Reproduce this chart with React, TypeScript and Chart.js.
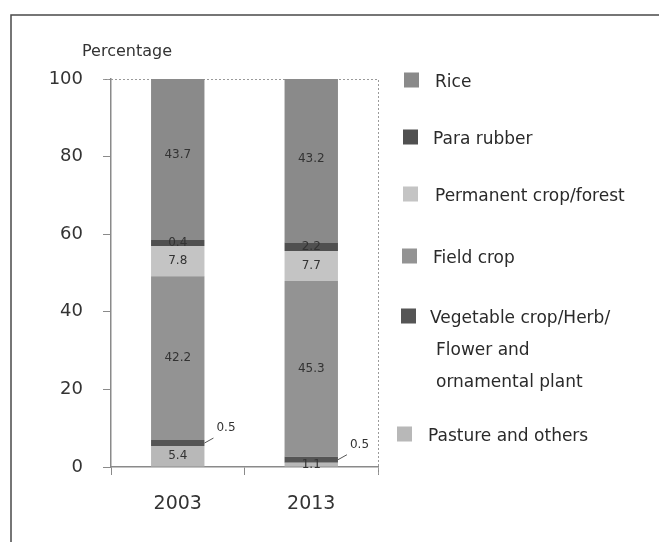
import React, { useEffect, useRef } from "react";
import { Chart, registerables } from "chart.js";

Chart.register(...registerables);

const categories = ["2003", "2013"];
const pasture = [5.4, 1.1];
const vegetable = [0.5, 0.5];
const fieldCrop = [42.2, 45.3];
const permanent = [7.8, 7.7];
const paraRubber = [0.4, 2.2];
const rice = [43.7, 43.2];
const yMin = 0;
const yMax = 100;
const yStep = 20;
const yTitle = "Percentage";

const legendItems = [
  { lines: ["Rice"], color: "#8a8a8a" },
  { lines: ["Para rubber"], color: "#505050" },
  { lines: ["Permanent crop/forest"], color: "#c4c4c4" },
  { lines: ["Field crop"], color: "#939393" },
  { lines: ["Vegetable crop/Herb/", "Flower and", "ornamental plant"], color: "#555555" },
  { lines: ["Pasture and others"], color: "#b8b8b8" },
];

const FONT = "'DejaVu Sans', Verdana, sans-serif";

const framePlugin = {
  id: "frame",
  beforeDraw(chart: any) {
    const ctx = chart.ctx;
    ctx.save();
    ctx.fillStyle = "#ffffff";
    ctx.fillRect(0, 0, chart.width, chart.height);
    ctx.strokeStyle = "#4a4a4a";
    ctx.lineWidth = 1.5;
    ctx.strokeRect(11, 15, 800, 700);
    // title
    ctx.fillStyle = "#333";
    ctx.font = `16px ${FONT}`;
    ctx.textAlign = "left";
    ctx.textBaseline = "middle";
    ctx.fillText(yTitle, 82, 52);
    ctx.restore();
  },
  beforeDatasetsDraw(chart: any) {
    const { ctx, chartArea } = chart;
    ctx.save();
    ctx.strokeStyle = "#9a9a9a";
    ctx.lineWidth = 1;
    ctx.setLineDash([2, 2]);
    ctx.beginPath();
    ctx.moveTo(chartArea.left - 8, chartArea.top + 0.5);
    ctx.lineTo(chartArea.right + 0.5, chartArea.top + 0.5);
    ctx.lineTo(chartArea.right + 0.5, chartArea.bottom + 8);
    ctx.stroke();
    ctx.restore();
  },
  afterDatasetsDraw(chart: any) {
    const ctx = chart.ctx;
    ctx.save();
    ctx.font = `12px ${FONT}`;
    ctx.fillStyle = "#333";
    ctx.textAlign = "center";
    ctx.textBaseline = "middle";
    chart.data.datasets.forEach((ds: any, di: number) => {
      const meta = chart.getDatasetMeta(di);
      meta.data.forEach((el: any, i: number) => {
        const v = ds.data[i];
        const cy = (el.y + el.base) / 2;
        if (ds.outsideLabel) {
          const rx = el.x + el.width / 2;
          ctx.strokeStyle = "#555";
          ctx.lineWidth = 1;
          ctx.beginPath();
          ctx.moveTo(rx, cy);
          ctx.lineTo(rx + 9, cy - 5);
          ctx.stroke();
          ctx.textAlign = "left";
          ctx.fillText(String(v), rx + 12, cy - 15);
          ctx.textAlign = "center";
        } else {
          ctx.fillText(String(v), el.x, cy);
        }
      });
    });
    ctx.restore();
  },
  afterDraw(chart: any) {
    const ctx = chart.ctx;
    ctx.save();
    const boxX = [404, 403, 403, 402, 401, 397];
    const boxY = [80, 137, 194, 256, 316, 434];
    const textX = [435, 433, 435, 433, 430, 428];
    const lineGap = 32;
    ctx.font = `17px ${FONT}`;
    ctx.textAlign = "left";
    ctx.textBaseline = "middle";
    legendItems.forEach((it, i) => {
      ctx.fillStyle = it.color;
      ctx.fillRect(boxX[i], boxY[i] - 7.5, 15, 15);
      ctx.fillStyle = "#2a2a2a";
      it.lines.forEach((ln, j) => {
        ctx.fillText(ln, textX[i] + (j > 0 ? 6 : 0), boxY[i] + 3 + j * lineGap);
      });
    });
    ctx.restore();
  },
};

export default function App() {
  const ref = useRef<HTMLCanvasElement>(null);
  useEffect(() => {
    if (!ref.current) return;
    const chart = new Chart(ref.current, {
      type: "bar",
      data: {
        labels: categories,
        datasets: [
          { label: "Pasture and others", data: pasture, backgroundColor: "#b8b8b8" },
          { label: "Vegetable crop/Herb/Flower and ornamental plant", data: vegetable, backgroundColor: "#555555", minBarLength: 6, outsideLabel: true } as any,
          { label: "Field crop", data: fieldCrop, backgroundColor: "#939393" },
          { label: "Permanent crop/forest", data: permanent, backgroundColor: "#c4c4c4" },
          { label: "Para rubber", data: paraRubber, backgroundColor: "#505050", minBarLength: 6 },
          { label: "Rice", data: rice, backgroundColor: "#8a8a8a" },
        ],
      },
      options: {
        responsive: false,
        animation: false,
        devicePixelRatio: 1,
        datasets: { bar: { barPercentage: 0.4, categoryPercentage: 1.0, borderWidth: 0 } },
        layout: { padding: { left: 0, top: 79, right: 281, bottom: 0 } },
        plugins: { legend: { display: false }, tooltip: { enabled: false }, title: { display: false } },
        scales: {
          x: {
            stacked: true,
            grid: { display: true, drawOnChartArea: false, drawTicks: true, tickLength: 8, color: "#8a8a8a", offset: true },
            border: { display: true, color: "#8a8a8a", width: 1.5 },
            ticks: { color: "#333", font: { family: FONT, size: 19 }, padding: 18 },
            afterFit: (s: any) => { s.height = 75; },
          },
          y: {
            stacked: true,
            min: yMin,
            max: yMax,
            grid: { display: true, drawOnChartArea: false, drawTicks: true, tickLength: 8, color: "#8a8a8a" },
            border: { display: true, color: "#8a8a8a", width: 1.5 },
            ticks: { stepSize: yStep, color: "#333", font: { family: FONT, size: 18 }, padding: 20 },
            afterFit: (s: any) => { s.width = 111; },
          },
        },
      },
      plugins: [framePlugin],
    });
    return () => chart.destroy();
  }, []);
  return (
    <div style={{ position: "absolute", left: 0, top: 0, width: 659, height: 542, background: "#fff" }}>
      <canvas ref={ref} width={659} height={542} style={{ display: "block" }} />
    </div>
  );
}
